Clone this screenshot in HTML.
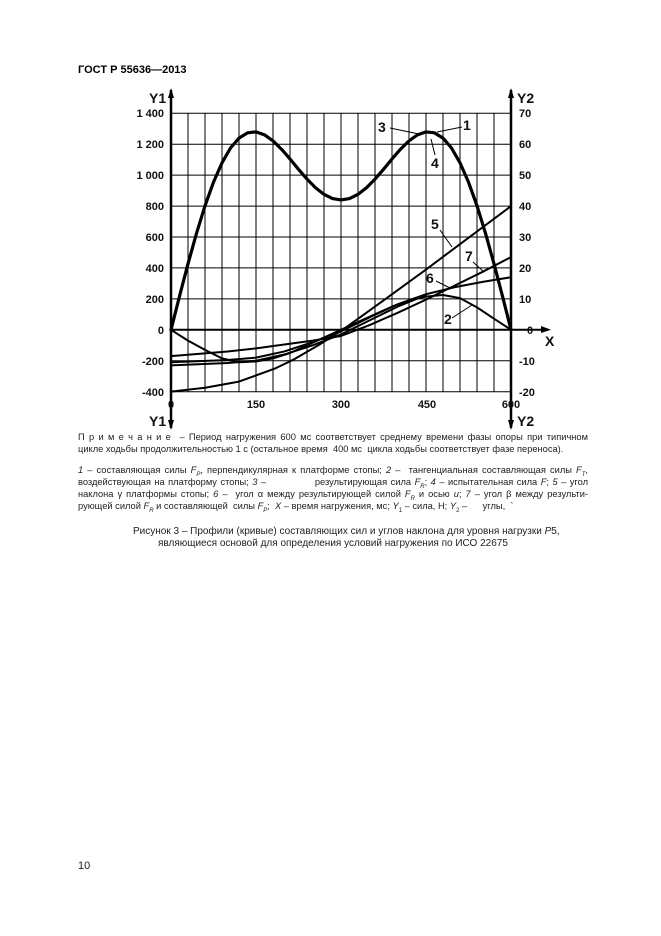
<!DOCTYPE html>
<html><head><meta charset="utf-8"><style>
body{margin:0;width:661px;height:936px;background:#fff;position:relative;font-family:"Liberation Sans",sans-serif;overflow:hidden}
.t{position:absolute;font-size:9.3px;color:#222;white-space:nowrap}
.j{position:absolute;left:78px;width:510px;font-size:9.3px;color:#222;text-align:justify;text-align-last:justify;white-space:nowrap}
</style></head><body>
<div class="t" style="left:78px;top:64px;font-size:11px;font-weight:bold;color:#000">ГОСТ Р 55636—2013</div>
<svg width="661" height="936" style="position:absolute;left:0;top:0" font-family="Liberation Sans, sans-serif">
<g stroke="#000" stroke-width="1">
<path d="M188 113V392M205 113V392M222 113V392M239 113V392M256 113V392M273 113V392M290 113V392M307 113V392M324 113V392M341 113V392M358 113V392M375 113V392M392 113V392M409 113V392M426 113V392M443 113V392M460 113V392M477 113V392M494 113V392"/>
<path d="M171 113.3H511M171 144.2H511M171 175.1H511M171 206.1H511M171 237H511M171 267.9H511M171 298.9H511M171 360.7H511M171 391.7H511"/>
</g>
<path d="M171 329.8H548" stroke="#000" stroke-width="2"/>
<path d="M541 326L551 329.8L541 333" fill="#000"/>
<path d="M171 90V428M511 90V428" stroke="#000" stroke-width="2.5"/>
<path d="M168 98L171 88L174 98ZM168 420L171 430L174 420ZM508 98L511 88L514 98ZM508 420L511 430L514 420Z" fill="#000"/>
<g transform="translate(171,329.8) scale(0.56667,-0.1546)" fill="none" stroke="#000" stroke-linejoin="round" stroke-linecap="round">
<polyline vector-effect="non-scaling-stroke" stroke-width="3.2" points="0,0 15,217 30,427 45,624 60,802 75,955 90,1080 105,1176 120,1240 135,1274 150,1280 165,1261 180,1222 195,1168 210,1105 225,1038 240,975 255,919 270,876 285,849 300,840 315,849 330,876 345,919 360,975 375,1038 390,1105 405,1168 420,1222 435,1261 450,1280 465,1274 480,1240 495,1176 510,1080 525,955 540,802 555,624 570,427 585,217 600,0"/>
<polyline vector-effect="non-scaling-stroke" stroke-width="2" points="0,0 30,-70 60,-130 90,-185 120,-210 150,-205 180,-185 210,-150 240,-100 270,-50 300,0 330,50 360,100 390,150 420,190 450,215 480,225 510,205 540,145 570,72 600,0"/>
<polyline vector-effect="non-scaling-stroke" stroke-width="2" points="0,-400 60,-375 120,-335 150,-295 185,-248 215,-195 260,-100 303,0 360,150 450,390 600,800"/>
<polyline vector-effect="non-scaling-stroke" stroke-width="2" points="0,-170 100,-140 150,-120 200,-95 250,-70 300,-40 350,30 400,110 450,195 500,285 550,375 600,470"/>
<polyline vector-effect="non-scaling-stroke" stroke-width="2" points="0,-210 100,-195 150,-180 200,-140 250,-80 300,-10 350,80 400,165 450,230 500,275 550,310 600,340"/>
<polyline vector-effect="non-scaling-stroke" stroke-width="2" points="0,-230 100,-215 150,-200 200,-160 250,-100 300,-30 350,60 400,150 450,225"/>
</g>
<g font-size="11" font-weight="bold" fill="#111" text-anchor="end">
<text x="164" y="117">1 400</text><text x="164" y="148">1 200</text><text x="164" y="179">1 000</text><text x="164" y="210">800</text><text x="164" y="241">600</text><text x="164" y="272">400</text><text x="164" y="303">200</text><text x="164" y="334">0</text><text x="164" y="365">-200</text><text x="164" y="396">-400</text>
</g>
<g font-size="11" font-weight="bold" fill="#111" text-anchor="start">
<text x="519" y="117">70</text><text x="519" y="148">60</text><text x="519" y="179">50</text><text x="519" y="210">40</text><text x="519" y="241">30</text><text x="519" y="272">20</text><text x="519" y="303">10</text><text x="527" y="334">0</text><text x="519" y="365">-10</text><text x="519" y="396">-20</text>
</g>
<g font-size="11" font-weight="bold" fill="#111" text-anchor="middle">
<text x="171" y="408">0</text><text x="256" y="408">150</text><text x="341" y="408">300</text><text x="427" y="408">450</text><text x="511" y="408">600</text>
</g>
<g font-size="14" font-weight="bold" fill="#111">
<text x="149" y="103">Y1</text><text x="149" y="426">Y1</text><text x="517" y="103">Y2</text><text x="517" y="426">Y2</text>
<text x="545" y="346">X</text>
<text x="378" y="132">3</text><text x="463" y="130">1</text><text x="431" y="168">4</text><text x="431" y="229">5</text><text x="465" y="261">7</text><text x="426" y="283">6</text><text x="444" y="324">2</text>
</g>
<g stroke="#000" stroke-width="1" fill="none">
<path d="M390 128L419 134M462 127L437 132M435 155L431 139M440 230L452 247M473 262L484 272M436 281L450 288M452 318L472 305"/>
</g>
</svg>
<div class="j" style="top:432px">П р и м е ч а н и е &nbsp;– Период нагружения 600 мс соответствует среднему времени фазы опоры при типичном</div>
<div class="t" style="left:78px;top:444px">цикле ходьбы продолжительностью 1 с (остальное время &nbsp;400 мс &nbsp;цикла ходьбы соответствует фазе переноса).</div>
<div class="j" style="top:465px"><i>1</i> – составляющая силы <i>F<sub style="font-size:6px">P</sub></i>, перпендикулярная к платформе стопы; <i>2</i> – &nbsp;тангенциальная составляющая силы <i>F<sub style="font-size:6px">T</sub></i>,</div>
<div class="j" style="top:477px">воздействующая на платформу стопы; <i>3</i> – &nbsp;&nbsp;&nbsp;&nbsp;&nbsp;&nbsp;&nbsp;&nbsp;&nbsp;&nbsp;&nbsp;&nbsp;&nbsp;результирующая сила <i>F<sub style="font-size:6px">R</sub></i>; <i>4</i> – испытательная сила <i>F</i>; <i>5</i> – угол</div>
<div class="j" style="top:489px">наклона γ платформы стопы; <i>6</i> – &nbsp;угол α между результирующей силой <i>F<sub style="font-size:6px">R</sub></i> и осью <i>u</i>; <i>7</i> – угол β между результи-</div>
<div class="t" style="left:78px;top:501px">рующей силой <i>F<sub style="font-size:6px">R</sub></i> и составляющей &nbsp;силы <i>F<sub style="font-size:6px">P</sub></i>; &nbsp;<i>X</i> – время нагружения, мс; <i>Y</i><sub style="font-size:6px">1</sub> – сила, Н; <i>Y</i><sub style="font-size:6px">2</sub> – &nbsp;&nbsp;&nbsp;&nbsp;&nbsp;углы, &nbsp;`</div>
<div class="t" style="left:133px;top:526px;font-size:10px">Рисунок 3 – Профили (кривые) составляющих сил и углов наклона для уровня нагрузки <i>Р</i>5,</div>
<div class="t" style="left:158px;top:538px;font-size:10px">являющиеся основой для определения условий нагружения по ИСО 22675</div>
<div class="t" style="left:78px;top:860px;font-size:11px">10</div>
</body></html>
